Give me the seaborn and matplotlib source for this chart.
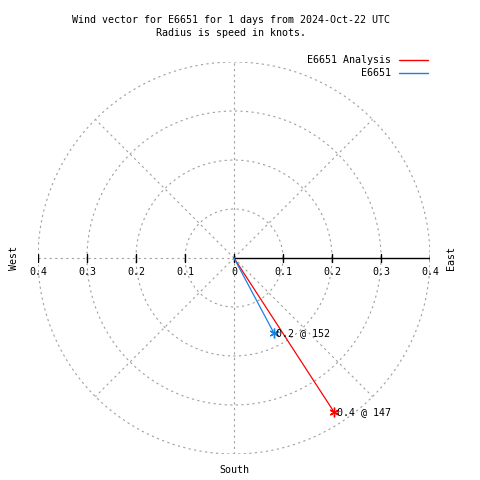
import numpy as np
import pandas as pd
import seaborn as sns
import matplotlib.pyplot as plt
from matplotlib.lines import Line2D

# wind vectors (speed in knots, direction in degrees clockwise from north)
series = ["E6651 Analysis", "E6651"]
speeds = [0.375, 0.174]
directions = [147, 152]
colors = ["#ff0000", "#1a80e6"]
ring_radii = [0.1, 0.2, 0.3, 0.4]
tick_values = [-0.4, -0.3, -0.2, -0.1, 0.0, 0.1, 0.2, 0.3, 0.4]
tick_labels = ["0.4", "0.3", "0.2", "0.1", "0", "0.1", "0.2", "0.3", "0.4"]

sns.set_style("white")
plt.rcParams["font.family"] = ["DejaVu Sans Mono"]
plt.rcParams["text.color"] = "black"
fs = 7.2
grid_kw = dict(color="#a0a0a0", lw=0.8, ls=(0, (2, 3)))

fig = plt.figure(figsize=(4.8, 4.8), dpi=100)
ax = fig.add_axes([38 / 480, 26 / 480, 392 / 480, 392 / 480])
ax.set_xlim(-0.4, 0.4)
ax.set_ylim(-0.4, 0.4)
ax.set_aspect("equal")
ax.axis("off")

# polar grid
theta = np.linspace(0, 2 * np.pi, 361)
rmax = ring_radii[-1]
for r in ring_radii:
    ax.plot(r * np.cos(theta), r * np.sin(theta), **grid_kw)
for ang in [45, 135, 225, 315]:
    a = np.deg2rad(ang)
    ax.plot([0, rmax * np.cos(a)], [0, rmax * np.sin(a)], **grid_kw)
ax.plot([0, 0], [-rmax, rmax], **grid_kw)
ax.plot([-rmax, 0], [0, 0], **grid_kw)

# solid axis on the east side with ticks
ax.plot([0, rmax], [0, 0], color="black", lw=1)
for tv, tl in zip(tick_values, tick_labels):
    ax.plot([tv, tv], [-0.009, 0.009], color="black", lw=1)
    ax.text(tv, -0.029, tl, ha="center", va="center", fontsize=fs)

# vectors
for name, s, d, c in zip(series, speeds, directions, colors):
    a = np.deg2rad(d)
    df = pd.DataFrame({"x": [0, s * np.sin(a)], "y": [0, s * np.cos(a)]})
    sns.lineplot(data=df, x="x", y="y", sort=False, estimator=None,
                 color=c, lw=0.9, ax=ax)
    ax.plot(df["x"].iloc[-1], df["y"].iloc[-1], marker=(6, 2, 0),
            color=c, ms=7, mew=1)
    ax.text(df["x"].iloc[-1] + 0.005, df["y"].iloc[-1],
            f"{s:.1f} @ {d}", ha="left", va="center", fontsize=fs)

# compass labels
ax.text(-0.448, 0, "West", rotation=90, ha="center", va="center", fontsize=fs)
ax.text(0.443, 0, "East", rotation=90, ha="center", va="center", fontsize=fs)
ax.text(0, -0.433, "South", ha="center", va="center", fontsize=fs)

fig.text(231 / 480, 1 - 20 / 480,
         "Wind vector for E6651 for 1 days from 2024-Oct-22 UTC",
         ha="center", va="center", fontsize=fs)
fig.text(231 / 480, 1 - 33 / 480, "Radius is speed in knots.",
         ha="center", va="center", fontsize=fs)

handles = [Line2D([], [], color=c, lw=1) for c in colors]
ax.legend(handles, series, loc="upper right", frameon=False,
          markerfirst=False, fontsize=fs, handlelength=2.9,
          handletextpad=0.8, labelspacing=0.3, borderpad=0,
          borderaxespad=0, bbox_to_anchor=(428 / 480, 1 - 55 / 480),
          bbox_transform=fig.transFigure)

fig.savefig("out.png", dpi=100)
